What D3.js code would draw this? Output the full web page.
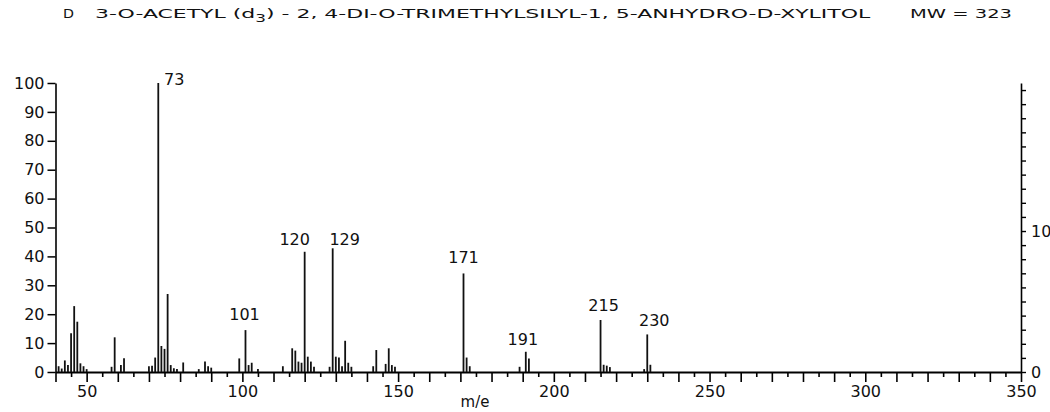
<!DOCTYPE html>
<html>
<head>
<meta charset="utf-8">
<script src="https://cdn.jsdelivr.net/npm/d3@7"></script>
<style>
body{margin:0;background:#fff;}
svg text{fill:#111;}
</style>
</head>
<body>
<svg id="spec" width="1050" height="412"></svg>
<script>
// m/e values and relative intensities
const mz = [41,42,43,44,45,46,47,48,49,50,
  58,59,61,62,
  70,71,72,73,74,75,76,77,78,79,
  81,86,88,89,90,
  99,101,102,103,105,
  113,116,117,118,119,120,121,122,123,
  128,129,130,131,132,133,134,135,
  142,143,146,147,148,149,
  171,172,173,
  189,191,192,
  215,216,217,218,
  229,230,231];
const intensity = [2,1.2,4,2.4,13.4,22.8,17.4,3,2,1,
  1.8,12,2.4,4.8,
  2,2.2,5,100,9,8,27,2.4,1.3,1,
  3.3,1,3.6,2,1.5,
  4.7,14.5,2.4,3.2,1,
  2,8.2,7.4,3.6,3.2,41.6,5.3,3.6,1.8,
  1.8,42.8,5.3,5,2,10.8,3.2,1.8,
  2,7.6,2.8,8.2,2.4,1.8,
  34.1,5,2,
  1.8,7,4.7,
  18,2.5,2.2,1.7,
  1,13,2.5];
const labelled = [73,101,120,129,171,191,215,230];
const leftTicks = [0,10,20,30,40,50,60,70,80,90,100];
const rightTicks = [0,10];
const xLabels = [50,100,150,200,250,300,350];

const svg = d3.select("#spec");
const num = "DejaVu Sans, sans-serif";

const x = d3.scaleLinear().domain([40,350]).range([55.5,1021]);
const y = d3.scaleLinear().domain([0,100]).range([372,83]);
const y2 = d3.scaleLinear().domain([0,20.5]).range([372,83]);

// title, squeezed to the widths seen in the scan
const title = svg.append("g").attr("font-family","DejaVu Sans Condensed, DejaVu Sans, sans-serif").attr("font-size",13);
function fit(sel, x0, w){
  const bw = sel.node().getBBox().width;
  sel.attr("x",0).attr("transform","translate("+x0+",0) scale("+(w/bw)+",1)");
}
const dd = title.append("text").attr("y",18).text("D");
fit(dd, 63, 11);
const t = title.append("text").attr("y",18);
t.append("tspan").text("3-O-ACETYL (d");
t.append("tspan").attr("font-size",10).attr("dy",4).text("3");
t.append("tspan").attr("dy",-4).text(") - 2, 4-DI-O-TRIMETHYLSILYL-1, 5-ANHYDRO-D-XYLITOL");
fit(t, 95, 777);
const mw = title.append("text").attr("y",18).text("MW = 323");
fit(mw, 910, 102);

// x axis: ticks every 5, longer at tens
const xa = svg.append("g").attr("transform","translate(0,372)")
  .call(d3.axisBottom(x).tickValues(d3.range(40,351,5)).tickSizeOuter(0)
    .tickFormat(d => xLabels.includes(d) ? d : ""));
xa.selectAll(".tick line").attr("y2", d => d % 10 === 0 ? 10 : 5).attr("stroke-width",1.6);
xa.selectAll(".tick text").attr("y",14).attr("font-size",16).attr("font-family",num);
xa.select(".domain").attr("stroke-width",1.8);

svg.append("text").attr("x",475).attr("y",407).attr("text-anchor","middle")
  .attr("font-family",num).attr("font-size",15).text("m/e");

// left axis
const ya = svg.append("g").attr("transform","translate(55.5,0)")
  .call(d3.axisLeft(y).tickValues(leftTicks).tickSize(8).tickPadding(3).tickSizeOuter(0));
ya.selectAll(".tick text").attr("font-size",16).attr("font-family",num);
ya.selectAll(".tick line").attr("stroke-width",1.5);
ya.select(".domain").attr("stroke-width",1.6);

// right axis (second scale)
const ra = svg.append("g").attr("transform","translate(1021,0)")
  .call(d3.axisRight(y2).tickValues(d3.range(0,21,1)).tickSize(5).tickPadding(5).tickSizeOuter(0)
    .tickFormat(d => rightTicks.includes(d) ? d : ""));
ra.selectAll(".tick text").attr("font-size",16).attr("font-family",num);
ra.selectAll(".tick line").attr("stroke-width",1.4);
ra.select(".domain").attr("stroke-width",1.6);

// peaks
const peaks = mz.map((m,i) => ({m:m, v:intensity[i]}));
svg.append("g").selectAll("line").data(peaks).join("line")
  .attr("x1", d => x(d.m)).attr("x2", d => x(d.m))
  .attr("y1", y(0)).attr("y2", d => y(d.v))
  .attr("stroke","#111").attr("stroke-width",1.8);

// peak labels
const off = {73:[16,2],101:[-1,-10],120:[-10,-7],129:[12,-3],171:[0,-10],191:[-3,-7],215:[3,-9],230:[7,-8]};
svg.append("g").selectAll("text").data(peaks.filter(p => labelled.includes(p.m))).join("text")
  .attr("x", d => x(d.m) + off[d.m][0])
  .attr("y", d => y(d.v) + off[d.m][1])
  .attr("text-anchor","middle").attr("font-family",num).attr("font-size",16)
  .text(d => d.m);
</script>
</body>
</html>
